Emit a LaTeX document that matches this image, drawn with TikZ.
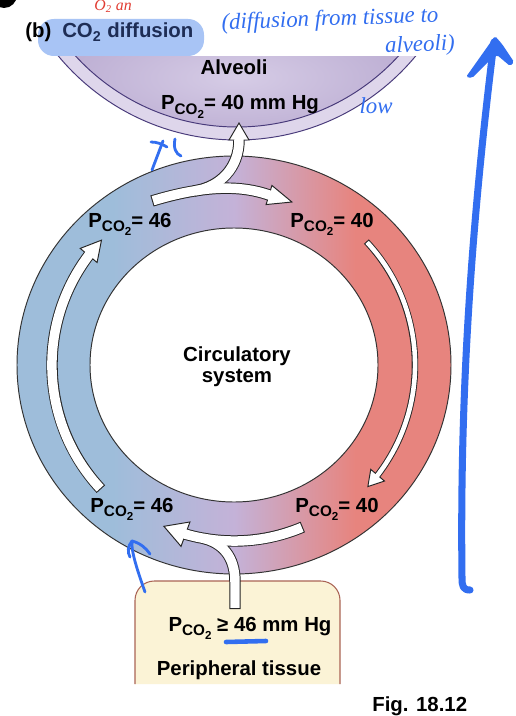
\documentclass[tikz,border=0pt]{standalone}
\usepackage{fontspec}
\setmainfont{Liberation Sans}
\newfontfamily\handfont{Liberation Serif}
\usetikzlibrary{calc}

\definecolor{ringblue}{RGB}{158,189,218}
\definecolor{ringmid}{RGB}{196,178,216}
\definecolor{ringred}{RGB}{231,132,126}
\definecolor{alvband}{RGB}{222,214,235}
\definecolor{alvlight}{RGB}{214,204,230}
\definecolor{alvdark}{RGB}{190,176,212}
\definecolor{alvrim}{RGB}{72,58,122}
\definecolor{tissuefill}{RGB}{251,243,214}
\definecolor{tissuerim}{RGB}{170,100,85}
\definecolor{ink}{RGB}{50,110,240}
\definecolor{hilite}{RGB}{168,196,245}
\definecolor{titlenavy}{RGB}{30,45,85}
\definecolor{redink}{RGB}{225,60,50}

\pgfdeclarehorizontalshading{ringshade}{100bp}{color(0bp)=(ringblue); color(36bp)=(ringblue); color(50bp)=(ringmid); color(64bp)=(ringred); color(100bp)=(ringred)}

\newcommand{\lblfont}{\bfseries\fontsize{11.6}{12}\selectfont}
\newcommand{\pco}{P\raisebox{-2.8pt}{\fontsize{8.7}{9}\selectfont CO\raisebox{-1.9pt}{\fontsize{6.6}{7}\selectfont 2}}}
% white arrow head: base coordinate, direction, length, half width
\newcommand{\whitehead}[4]{\filldraw[headfill] ($(#1)+(#2+90:#4)$) -- ($(#1)+(#2:#3)$) -- ($(#1)+(#2-90:#4)$) -- cycle;}

\begin{document}
\begin{tikzpicture}[x=0.02cm, y=-0.02cm,
  lbl/.style={font=\lblfont, inner sep=0pt},
  hand/.style={font=\handfont\itshape\fontsize{13}{14}\selectfont, text=ink, inner sep=0pt},
  inkpen/.style={draw=ink, line width=1.6pt, line cap=round, line join=round},
  shaftout/.style={draw=black!85, line width=6.5pt},
  shaftin/.style={draw=white, line width=5.4pt, shorten <=0.6pt},
  thinout/.style={draw=black!85, line width=3.7pt},
  thinin/.style={draw=white, line width=2.6pt, shorten <=0.6pt},
  headfill/.style={fill=white, draw=black!85, line width=0.55pt, line join=miter},
  ringline/.style={draw=black!80, line width=0.55pt},
  alvline/.style={draw=alvrim, line width=0.55pt},
  tissuebox/.style={fill=tissuefill, draw=tissuerim, line width=0.6pt, rounded corners=11pt}]

\path[use as bounding box, fill=white] (0,0) rectangle (516,716);

% title with highlight
\fill[hilite, rounded corners=9pt] (38,19) rectangle (204,56);
\node[lbl, anchor=base west] (ttl) at (25,38) {(b)\hspace{6.2pt}\textcolor{titlenavy}{CO\textsubscript{2} diffusion}};
\fill (4,-5) circle [radius=13];
\node[hand, text=redink, anchor=base, font=\handfont\itshape\fontsize{9}{10}\selectfont] (redn) at (113,11) {O\textsubscript{2} an};
\node[hand, rotate=2] (note1) at (330,20) {(diffusion from tissue to};
\node[hand, rotate=2] (note2) at (420,46) {alveoli)};

% alveoli
\coordinate (alvc) at (237,-92);
\begin{scope}
  \clip (0,57) rectangle (516,160);
  \fill[alvband] (alvc) circle [radius=232];
  \begin{scope}
    \clip (alvc) circle [radius=219];
    \shade[inner color=alvlight, outer color=alvdark] (70,20) rectangle (404,135);
  \end{scope}
  \draw[alvline] (alvc) circle [radius=232] (alvc) circle [radius=219];
\end{scope}
\node[lbl, anchor=base] (alv) at (234,75) {Alveoli};
\node[lbl, anchor=base] (alvp) at (240,110) {\pco= 40 mm Hg};
\node[hand] (low) at (376,106) {low};

% circulatory ring
\coordinate (ringc) at (234,365);
\shade[shading=ringshade, even odd rule] (ringc) ellipse [x radius=217, y radius=209] (ringc) ellipse [x radius=144, y radius=137];
\draw[ringline] (ringc) ellipse [x radius=217, y radius=209] (ringc) ellipse [x radius=144, y radius=137];

% peripheral tissue
\filldraw[tissuebox] (135,684) -- (135,581) -- (340,581) -- (340,684);

% white arrows
\coordinate (lbase) at ($(ringc)+(217:182)$);
\coordinate (rbase) at ($(ringc)+(37.5:181)$);
\coordinate (bbase) at ($(ringc)+(106:176)$);
\coordinate (bjoin) at ($(ringc)+(100:176)$);
\coordinate (ytail) at (152,201);
\coordinate (ybase) at (269,195);
\coordinate (upbase) at (239,140);
\coordinate (tisup) at (235,609);

\draw[shaftout] ($(ringc)+(137:182)$) arc[start angle=137, end angle=217, radius=182];
\draw[thinout] ($(ringc)+(-43:181)$) arc[start angle=-43, end angle=37.5, radius=181];
\draw[shaftout] ($(ringc)+(67:176)$) arc[start angle=67, end angle=106, radius=176];
\draw[shaftout] (tisup) -- (235,582) .. controls (235,556) and (222,543) .. (bjoin);
\draw[shaftout] (ytail) .. controls (195,188) and (235,183) .. (ybase);
\draw[shaftout] (194,191) .. controls (220,187) and (239,168) .. (upbase);

\whitehead{lbase}{310}{20}{11}
\whitehead{rbase}{130.5}{15}{9}
\whitehead{bbase}{200}{23}{13}
\whitehead{ybase}{17}{24}{10}
\whitehead{upbase}{-90}{17}{10}

\draw[shaftin] ($(ringc)+(137:182)$) arc[start angle=137, end angle=219, radius=182];
\draw[thinin] ($(ringc)+(-43:181)$) arc[start angle=-43, end angle=39.5, radius=181];
\draw[shaftin] ($(ringc)+(67:176)$) arc[start angle=67, end angle=108, radius=176];
\draw[shaftin] (tisup) -- (235,582) .. controls (235,556) and (222,543) .. (bjoin);
\draw[shaftin] (ytail) .. controls (195,188) and (235,183) .. (ybase) -- ++(17:3);
\draw[shaftin] (194,191) .. controls (220,187) and (239,168) .. (upbase) -- ++(-90:3);

% labels
\node[lbl, anchor=base] (tl) at (130,227) {\pco= 46};
\node[lbl, anchor=base] (tr) at (332,227) {\pco= 40};
\node[lbl, anchor=base] (bl) at (132,512) {\pco= 46};
\node[lbl, anchor=base] (br) at (337,512) {\pco= 40};
\node[lbl, align=center] (circ) at (237,367) {Circulatory\\system};
\node[lbl, anchor=base] (tisp) at (250,631) {\pco{} ≥ 46 mm Hg};
\node[lbl, anchor=base] (tissue) at (239,675) {Peripheral tissue};
\node[lbl, anchor=base west] (fig) at (372,711) {Fig. 18.12};

% pen marks
\draw[inkpen] (152,170) -- (163,141);
\draw[inkpen] (151,142) .. controls (157,142) and (162,144) .. (167,147);
\draw[inkpen] (175,139) .. controls (173,148) and (176,154) .. (181,156);
\draw[inkpen] (145,592) .. controls (138,572) and (131,552) .. (132,541) .. controls (140,543) and (146,548) .. (150,554);
\draw[inkpen] (132,541) .. controls (128,546) and (127,552) .. (130,557);
\draw[inkpen, line width=2.6pt] (226,642) -- (266,641);
\draw[inkpen, line width=4pt] (470,590) .. controls (463,590) and (462,586) .. (462,578) .. controls (460,420) and (468,250) .. (494,42);
\fill[ink, rounded corners=1pt] (466,77) -- (495,36) -- (502,44) -- (514,62) -- (510,66) -- (497,55) -- (492,58) -- (472,78) -- cycle;
\end{tikzpicture}
\end{document}
